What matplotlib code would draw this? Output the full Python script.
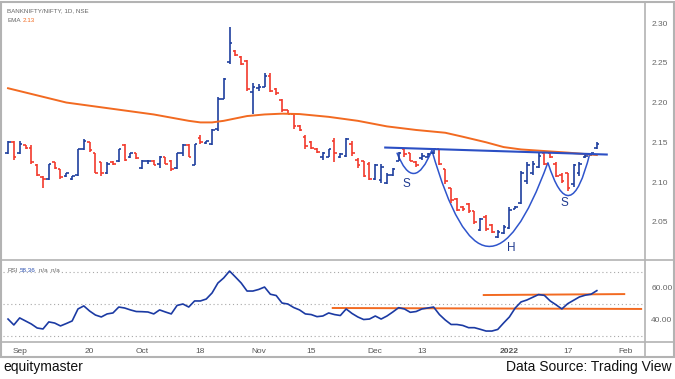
import numpy as np
import pandas as pd
import matplotlib
matplotlib.use('Agg')
import matplotlib.pyplot as plt
from matplotlib.lines import Line2D
from matplotlib.patches import Rectangle, PathPatch
from matplotlib.path import Path

plt.rcParams['font.family'] = ['Liberation Sans', 'DejaVu Sans']

# NSE trading days, holidays taken out
holidays = ['2021-09-10', '2021-10-15', '2021-11-05', '2021-11-19', '2022-01-26']
days = pd.bdate_range('2021-08-30', '2022-02-01')
days = days[~days.isin(pd.to_datetime(holidays))]

# BANKNIFTY/NIFTY daily OHLC
opens = [2.136, 2.150, 2.136, 2.146, 2.143, 2.122, 2.106, 2.104, 2.125, 2.116,
         2.108, 2.104, 2.109, 2.141, 2.150, 2.137, 2.125, 2.111, 2.125, 2.126,
         2.147, 2.132, 2.136, 2.118, 2.126, 2.127, 2.123, 2.131, 2.127, 2.118,
         2.136, 2.147, 2.122, 2.156, 2.149, 2.148, 2.167, 2.205, 2.251, 2.265,
         2.257, 2.252, 2.213, 2.218, 2.220, 2.234, 2.217, 2.203, 2.190, 2.185,
         2.170, 2.157, 2.150, 2.142, 2.131, 2.132, 2.152, 2.131, 2.133, 2.148,
         2.128, 2.126, 2.123, 2.104, 2.102, 2.099, 2.109, 2.127, 2.141, 2.136,
         2.125, 2.130, 2.132, 2.136, 2.141, 2.116, 2.092, 2.079, 2.069, 2.073,
         2.063, 2.040, 2.056, 2.046, 2.031, 2.036, 2.042, 2.066, 2.074, 2.101,
         2.112, 2.119, 2.137, 2.136, 2.123, 2.109, 2.111, 2.097, 2.111, 2.131,
         2.135, 2.143]
highs = [2.151, 2.151, 2.151, 2.147, 2.146, 2.123, 2.108, 2.123, 2.125, 2.117,
         2.112, 2.108, 2.142, 2.154, 2.150, 2.137, 2.125, 2.125, 2.127, 2.142,
         2.148, 2.137, 2.137, 2.128, 2.128, 2.128, 2.133, 2.131, 2.128, 2.137,
         2.148, 2.148, 2.148, 2.159, 2.152, 2.167, 2.207, 2.231, 2.295, 2.266,
         2.258, 2.253, 2.224, 2.223, 2.237, 2.237, 2.218, 2.204, 2.191, 2.186,
         2.172, 2.159, 2.152, 2.143, 2.138, 2.142, 2.155, 2.137, 2.156, 2.151,
         2.130, 2.127, 2.125, 2.123, 2.123, 2.112, 2.118, 2.138, 2.143, 2.137,
         2.126, 2.136, 2.136, 2.143, 2.142, 2.117, 2.093, 2.080, 2.070, 2.074,
         2.064, 2.055, 2.058, 2.047, 2.040, 2.046, 2.068, 2.070, 2.114, 2.125,
         2.126, 2.136, 2.138, 2.138, 2.125, 2.111, 2.112, 2.123, 2.125, 2.136,
         2.137, 2.150]
lows = [2.135, 2.128, 2.135, 2.142, 2.123, 2.108, 2.093, 2.103, 2.117, 2.104,
        2.106, 2.102, 2.108, 2.140, 2.138, 2.111, 2.108, 2.110, 2.121, 2.125,
        2.126, 2.130, 2.129, 2.117, 2.123, 2.121, 2.118, 2.123, 2.114, 2.117,
        2.133, 2.131, 2.121, 2.148, 2.148, 2.147, 2.164, 2.204, 2.249, 2.258,
        2.247, 2.215, 2.186, 2.215, 2.219, 2.213, 2.210, 2.188, 2.185, 2.167,
        2.164, 2.142, 2.141, 2.136, 2.128, 2.131, 2.125, 2.130, 2.131, 2.133,
        2.118, 2.106, 2.102, 2.102, 2.099, 2.097, 2.108, 2.126, 2.132, 2.126,
        2.119, 2.128, 2.131, 2.135, 2.121, 2.098, 2.074, 2.063, 2.064, 2.061,
        2.047, 2.039, 2.039, 2.036, 2.030, 2.035, 2.041, 2.066, 2.073, 2.098,
        2.109, 2.118, 2.121, 2.130, 2.106, 2.099, 2.089, 2.094, 2.108, 2.130,
        2.133, 2.142]
closes = [2.150, 2.131, 2.148, 2.143, 2.125, 2.109, 2.104, 2.123, 2.118, 2.106,
          2.111, 2.107, 2.141, 2.152, 2.140, 2.111, 2.111, 2.123, 2.123, 2.141,
          2.128, 2.136, 2.130, 2.127, 2.127, 2.122, 2.131, 2.123, 2.116, 2.136,
          2.147, 2.132, 2.148, 2.150, 2.151, 2.166, 2.204, 2.229, 2.275, 2.260,
          2.249, 2.217, 2.220, 2.220, 2.234, 2.215, 2.212, 2.190, 2.186, 2.170,
          2.166, 2.145, 2.143, 2.138, 2.136, 2.141, 2.137, 2.135, 2.154, 2.136,
          2.121, 2.108, 2.104, 2.121, 2.119, 2.109, 2.117, 2.136, 2.135, 2.127,
          2.121, 2.133, 2.135, 2.142, 2.123, 2.101, 2.077, 2.065, 2.066, 2.063,
          2.050, 2.053, 2.041, 2.037, 2.037, 2.044, 2.065, 2.069, 2.112, 2.121,
          2.123, 2.133, 2.123, 2.131, 2.108, 2.101, 2.092, 2.121, 2.123, 2.133,
          2.136, 2.148]

# RSI per bar
rsi = [40.6, 36.9, 41.3, 39.4, 37.5, 35.0, 34.4, 38.8, 38.1, 36.3,
       37.8, 39.4, 46.9, 48.8, 45.6, 43.1, 41.9, 43.8, 44.4, 48.1,
       47.5, 46.3, 45.3, 45.2, 45.0, 43.8, 46.3, 45.0, 43.8, 49.1,
       50.0, 48.1, 51.9, 51.9, 53.1, 56.9, 63.1, 66.3, 70.6, 66.9,
       63.1, 58.1, 58.1, 59.1, 60.6, 56.1, 55.3, 50.6, 50.0, 47.8,
       46.3, 43.8, 43.4, 42.1, 42.5, 44.4, 43.4, 42.8, 46.9, 44.1,
       41.9, 40.3, 40.6, 42.5, 40.6, 42.5, 45.0, 47.7, 46.9, 44.8,
       45.3, 46.9, 47.5, 48.1, 43.4, 40.0, 37.2, 37.2, 36.6, 35.2,
       35.2, 34.2, 33.1, 33.1, 34.1, 38.1, 41.9, 47.5, 51.3, 52.5,
       54.2, 55.9, 55.4, 51.9, 49.5, 46.9, 50.2, 52.3, 54.4, 55.5,
       56.1, 58.36]

# EMA at these bars
ema_bar = [0, 5, 10, 15, 20, 25, 28, 31, 33, 35, 37, 39, 41, 44, 47, 50,
           55, 60, 65, 70, 75, 78, 82, 85, 88, 92, 96, 101]
ema_val = [2.218, 2.209, 2.200, 2.195, 2.190, 2.185, 2.181, 2.177, 2.175, 2.175,
           2.177, 2.180, 2.183, 2.185, 2.186, 2.1855, 2.182, 2.177, 2.170, 2.1655,
           2.162, 2.157, 2.150, 2.144, 2.141, 2.139, 2.137, 2.134]

# drawn pattern: neckline, shoulders and head (bar index, price)
neck_x = [64.7, 102.7]
neck_y = [2.1434, 2.1346]
left_s = [(66.7, 2.137), (69.6, 2.083), (72.7, 2.140)]
head = [(72.7, 2.140), (81.8, 1.906), (92.6, 2.1245)]
right_s = [(92.6, 2.1245), (96.4, 2.036), (99.8, 2.136)]
pattern_labels = [('S', 68.4, 2.098), ('H', 86.4, 2.017), ('S', 95.5, 2.074)]

# trend lines on RSI
rsi_lines = [([55.7, 108.6], [47.5, 46.9]), ([81.6, 105.7], [55.6, 56.2])]

tick_dates = ['2021-09-01', '2021-09-20', '2021-10-01', '2021-10-18', '2021-11-01', '2021-11-15',
              '2021-12-01', '2021-12-13', '2022-01-03', '2022-01-17', '2022-02-01']
tick_text = ['Sep', '20', 'Oct', '18', 'Nov', '15', 'Dec', '13', '2022', '17', 'Feb']

UP = '#1f3f9e'
DOWN = '#f23a2c'
ORANGE = '#f26a21'
GRID = '#b3b3b3'

W, H = 675, 379
fig = plt.figure(figsize=(W / 100, H / 100), dpi=100)
fig.patch.set_facecolor('white')


def box(x0, y0, x1, y1):
    return [x0 / W, 1 - y1 / H, (x1 - x0) / W, (y1 - y0) / H]


ax = fig.add_axes(box(3, 3, 645, 259))
rx = fig.add_axes(box(3, 262, 645, 342))

o = np.array(opens)
h = np.array(highs)
l = np.array(lows)
c = np.array(closes)
idx = np.arange(len(o))
col = np.where(c > o, UP, DOWN)

ax.vlines(idx, l, h, colors=col, lw=1.2)
ax.hlines(o, idx - 0.45, idx, colors=col, lw=1.2)
ax.hlines(c, idx, idx + 0.45, colors=col, lw=1.2)
ax.plot(ema_bar, ema_val, color=ORANGE, lw=1.4)

# pattern
ax.plot(neck_x, neck_y, color='#2b4fc4', lw=1.5)
for pts in (left_s, head, right_s):
    p = Path(pts, [Path.MOVETO, Path.CURVE3, Path.CURVE3])
    ax.add_patch(PathPatch(p, fill=False, ec='#2f55cc', lw=1.1))
for t, xx, yy in pattern_labels:
    ax.text(xx, yy, t, color='#1f3a8f', fontsize=8.5, ha='center', va='center')

xlim = (-0.86, 109.26)
ax.set_xlim(xlim)
ax.set_ylim(2.0032, 2.3252)
ax.set_yticks([2.05, 2.10, 2.15, 2.20, 2.25, 2.30])
ax.yaxis.set_major_formatter(plt.FormatStrFormatter('%.2f'))
ax.yaxis.tick_right()
ax.set_xticks([])

# RSI panel
for lvl in (30, 50, 70):
    rx.axhline(lvl, color='#a8a8a8', lw=0.8, ls=(0, (1, 2.5)))
for xs, ys in rsi_lines:
    rx.plot(xs, ys, color=ORANGE, lw=1.4)
rx.plot(idx, rsi, color='#1b3aa3', lw=1.2)
rx.set_xlim(xlim)
rx.set_ylim(26.25, 76.25)
rx.set_yticks([40, 60])
rx.yaxis.set_major_formatter(plt.FormatStrFormatter('%.2f'))
rx.yaxis.tick_right()

tick_pos = [days.get_loc(pd.Timestamp(d)) for d in tick_dates]
rx.set_xticks(tick_pos)
rx.set_xticklabels(tick_text)
for lab in rx.get_xticklabels():
    if lab.get_text() == '2022':
        lab.set_fontweight('bold')

for a in (ax, rx):
    for s in a.spines.values():
        s.set_visible(False)
    a.tick_params(axis='y', length=0, labelsize=6, labelcolor='#666666', pad=4.5)
    a.tick_params(axis='x', length=0, labelsize=6, labelcolor='#555555', pad=4)
    a.set_facecolor('white')

# frame and separators
fig.add_artist(Rectangle((1 / W, 1 - 357 / H), 673 / W, 355 / H, transform=fig.transFigure,
                         fill=False, ec=GRID, lw=1.5))
fig.add_artist(Line2D([1 / W, 674 / W], [1 - 260 / H] * 2, color=GRID, lw=1.2))
fig.add_artist(Line2D([1 / W, 674 / W], [1 - 342 / H] * 2, color=GRID, lw=1.2))
fig.add_artist(Line2D([645 / W] * 2, [1 - 2 / H, 1 - 357 / H], color=GRID, lw=1.2))

# legend texts
fs = 4.5
fig.text(7 / W, 1 - 11 / H, 'BANKNIFTY/NIFTY, 1D, NSE', fontsize=fs, color='#666666', va='center')
fig.text(7 / W, 1 - 20 / H, 'EMA', fontsize=fs, color='#666666', va='center')
fig.text(23 / W, 1 - 20 / H, '2.13', fontsize=fs, color=ORANGE, va='center')
fig.text(7 / W, 1 - 271 / H, 'RSI', fontsize=fs, color='#666666', va='center')
fig.text(20 / W, 1 - 271 / H, '58.36', fontsize=fs, color='#2a4fb0', va='center')
fig.text(39 / W, 1 - 271 / H, 'n/a  n/a', fontsize=fs, color='#666666', va='center')

# footer
fig.text(3 / W, 1 - 367 / H, 'equitymaster', fontsize=10, color='#111111', va='center')
fig.text(672 / W, 1 - 367 / H, 'Data Source: Trading View', fontsize=10, color='#111111',
         va='center', ha='right')

fig.savefig('out.png', dpi=100, facecolor='white')
